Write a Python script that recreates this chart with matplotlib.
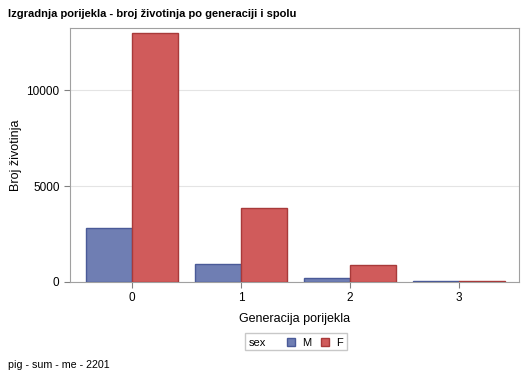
import numpy as np
import matplotlib
matplotlib.use('Agg')
import matplotlib.pyplot as plt
from matplotlib.patches import Rectangle

# podaci
generacije = ['0', '1', '2', '3']
broj_m = [2810, 940, 210, 30]
broj_f = [12970, 3850, 880, 40]

plt.rcParams['font.family'] = ['Liberation Sans', 'DejaVu Sans']

W, H = 529, 378
col_m, rub_m = '#6F7EB3', '#4A5A98'
col_f, rub_f = '#D05B5B', '#A83A3A'

fig = plt.figure(figsize=(W/100, H/100), dpi=100)
ax = fig.add_axes([70/W, 96/H, 449/W, 254/H])

x = np.arange(len(generacije))
w = 0.42
ax.bar(x - w/2, broj_m, width=w, color=col_m, edgecolor=rub_m, linewidth=1, zorder=3)
ax.bar(x + w/2, broj_f, width=w, color=col_f, edgecolor=rub_f, linewidth=1, zorder=3)

ax.set_xlim(-0.57, 3.55)
ax.set_ylim(0, 13230)
ax.set_yticks([0, 5000, 10000])
ax.set_xticks(x)
ax.set_xticklabels(generacije)
ax.grid(axis='y', color='#E4E4E4', linewidth=0.8, zorder=0)
for s in ax.spines.values():
    s.set_color('#A0A0A0')
ax.tick_params(colors='#808080', labelcolor='black', labelsize=8.5, length=4)

ax.set_xlabel('Generacija porijekla', fontsize=9, labelpad=6)
ax.set_ylabel('Broj životinja', fontsize=9, labelpad=3)

fig.text(8/W, 1 - 14/H, 'Izgradnja porijekla - broj životinja po generaciji i spolu',
         fontsize=8, fontweight='bold', va='center', ha='left')
fig.text(8/W, 1 - 365/H, 'pig - sum - me - 2201', fontsize=7.7, va='center', ha='left')

# legenda (ručno)
def px(xp, yp):
    return xp / W, 1 - yp / H

fig.patches.append(Rectangle(px(245, 350), 102/W, 17/H, transform=fig.transFigure,
                             facecolor='white', edgecolor='#C8C8C8', linewidth=1))
fig.text(*px(249, 342), 'sex', fontsize=8, va='center_baseline', ha='left')
for x0, c, e, lab in [(287, col_m, rub_m, 'M'), (321, col_f, rub_f, 'F')]:
    fig.patches.append(Rectangle(px(x0, 346), 8/W, 8/H, transform=fig.transFigure,
                                 facecolor=c, edgecolor=e, linewidth=1))
    fig.text(*px(x0 + 15, 342), lab, fontsize=8, va='center_baseline', ha='left')

plt.savefig('out.png', dpi=100)
plt.close()
